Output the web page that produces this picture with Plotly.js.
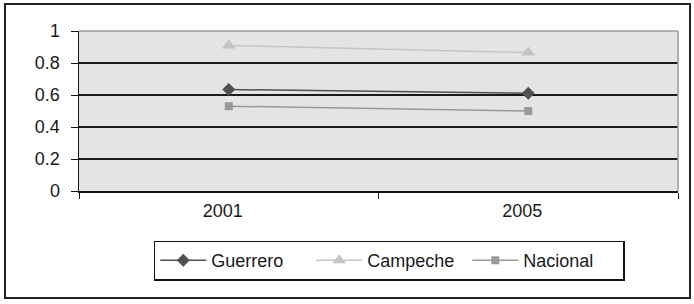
<!DOCTYPE html>
<html><head><meta charset="utf-8">
<script src="https://cdn.plot.ly/plotly-3.0.1.min.js"></script>
<style>
html,body{margin:0;padding:0;background:#fff;}
#wrap{position:relative;width:694px;height:304px;}
#frame{position:absolute;left:4px;top:3px;width:683px;height:292px;border:2px solid #222;pointer-events:none;z-index:5;}
#chart{position:absolute;left:0;top:0;width:694px;height:304px;}
</style></head>
<body><div id="wrap"><div id="chart"></div><div id="frame"></div></div>
<script>
var years = ['2001', '2005'];
var guerrero = [0.634, 0.611];
var campeche = [0.91, 0.865];
var nacional = [0.53, 0.50];
var seriesNames = ['Guerrero', 'Campeche', 'Nacional'];

var font = {family: 'Arial, Liberation Sans, sans-serif', size: 18, color: '#1a1a1a'};
var traces = [
  {x: years, y: guerrero, name: seriesNames[0], type: 'scatter', mode: 'lines+markers',
   line: {color: '#505050', width: 1.5}, marker: {symbol: 'diamond', size: 10, color: '#505050'}},
  {x: years, y: campeche, name: seriesNames[1], type: 'scatter', mode: 'lines+markers',
   line: {color: '#c4c4c4', width: 1.5}, marker: {symbol: 'triangle-up', size: 12, color: '#c4c4c4'}},
  {x: years, y: nacional, name: seriesNames[2], type: 'scatter', mode: 'lines+markers',
   line: {color: '#999999', width: 1.5}, marker: {symbol: 'square', size: 8, color: '#999999'}}
];
var layout = {
  width: 694, height: 304,
  margin: {l: 79, r: 16, t: 31, b: 113},
  paper_bgcolor: '#fff', plot_bgcolor: '#e4e4e4',
  font: font,
  showlegend: true,
  legend: {orientation: 'h', x: 0.518, y: -0.31, xanchor: 'center', yanchor: 'top',
    bordercolor: '#111', borderwidth: 1.5, bgcolor: '#fff', font: font,
    itemwidth: 46, entrywidth: 95, entrywidthmode: 'pixels', tracegroupgap: 0},
  xaxis: {type: 'category', range: [-0.5, 1.5], tickson: 'boundaries', ticks: 'outside',
    ticklen: 6, tickcolor: '#111', showgrid: false, showline: true, linecolor: '#111', linewidth: 1.5,
    zeroline: false, fixedrange: true, tickfont: font, ticklabelstandoff: 3, ticklabelshift: -6},
  yaxis: {range: [0, 1], dtick: 0.2, tick0: 0, ticks: 'outside', ticklen: 7, tickcolor: '#111',
    showgrid: true, gridcolor: '#1a1a1a', gridwidth: 1.5, showline: true, linecolor: '#111', linewidth: 1.5,
    zeroline: false, fixedrange: true, tickfont: font, tickformat: '', ticklabelstandoff: 7},
  shapes: [
    {type: 'line', xref: 'paper', yref: 'paper', x0: 0, x1: 1, y0: 1, y1: 1, line: {color: '#9a9a9a', width: 1.5}},
    {type: 'line', xref: 'paper', yref: 'paper', x0: 1, x1: 1, y0: 0, y1: 1, line: {color: '#9a9a9a', width: 1.5}}
  ]
};
Plotly.newPlot('chart', traces, layout, {displayModeBar: false, staticPlot: true});
</script></body></html>
